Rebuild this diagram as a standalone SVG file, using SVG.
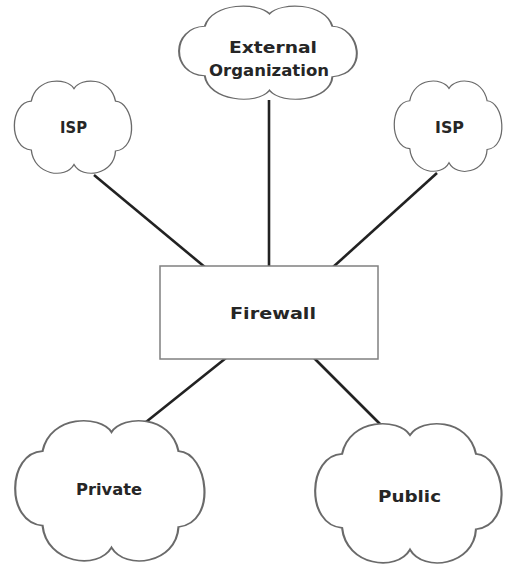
<svg xmlns="http://www.w3.org/2000/svg" xmlns:xlink="http://www.w3.org/1999/xlink" width="508" height="569" viewBox="0 0 508 569">
<style>
.cloud{fill:#fff;stroke:#6a6a6a;stroke-width:1.1;vector-effect:non-scaling-stroke}
.box{fill:#fff;stroke:#808080;stroke-width:1.5}
.lbl{font-family:"DejaVu Sans","Liberation Sans",Arial,sans-serif;font-weight:bold;font-size:16.5px;fill:#262626;text-anchor:start}
.conn{stroke:#222;stroke-width:2.6;fill:none;stroke-linecap:butt}
</style>
<defs>
<path id="cloud" d="M50,9 C56,-3 80,-3 84,22 C99,23 104,71 84,74 C83,99 57,104 50,88 C43,104 17,99 15,73 C-4,71 -3,23 15,22 C19,-3 44,-3 50,9 Z"/>
</defs>
<rect width="508" height="569" fill="#fff"/>
<g id="connectors">
<line class="conn" x1="269" y1="100" x2="269" y2="268"/>
<line class="conn" x1="94" y1="175" x2="206" y2="268"/>
<line class="conn" x1="437" y1="173" x2="332" y2="268"/>
<line class="conn" x1="226" y1="358" x2="146" y2="422"/>
<line class="conn" x1="314" y1="358" x2="381" y2="425"/>
</g>
<g id="external">
<use xlink:href="#cloud" class="cloud" transform="translate(177,5) scale(1.85,0.97)"/>
<text class="lbl" x="229" y="53" textLength="88" lengthAdjust="spacingAndGlyphs">External</text>
<text class="lbl" x="209" y="76" textLength="120" lengthAdjust="spacingAndGlyphs">Organization</text>
</g>
<g id="isp-left">
<use xlink:href="#cloud" class="cloud" transform="translate(13,80) scale(1.22,0.96)"/>
<text class="lbl" x="60" y="133" textLength="27" lengthAdjust="spacingAndGlyphs">ISP</text>
</g>
<g id="isp-right">
<use xlink:href="#cloud" class="cloud" transform="translate(393,80) scale(1.12,0.94)"/>
<text class="lbl" x="435" y="133" textLength="29" lengthAdjust="spacingAndGlyphs">ISP</text>
</g>
<g id="firewall">
<rect class="box" x="160" y="266" width="218" height="93"/>
<text class="lbl" x="230" y="319" textLength="86" lengthAdjust="spacingAndGlyphs">Firewall</text>
</g>
<g id="private">
<use xlink:href="#cloud" class="cloud" transform="translate(13,419) scale(1.97,1.46)"/>
<text class="lbl" x="76" y="495" textLength="66" lengthAdjust="spacingAndGlyphs">Private</text>
</g>
<g id="public">
<use xlink:href="#cloud" class="cloud" transform="translate(313,422) scale(1.94,1.45)"/>
<text class="lbl" x="378" y="502" textLength="63" lengthAdjust="spacingAndGlyphs">Public</text>
</g>
</svg>
